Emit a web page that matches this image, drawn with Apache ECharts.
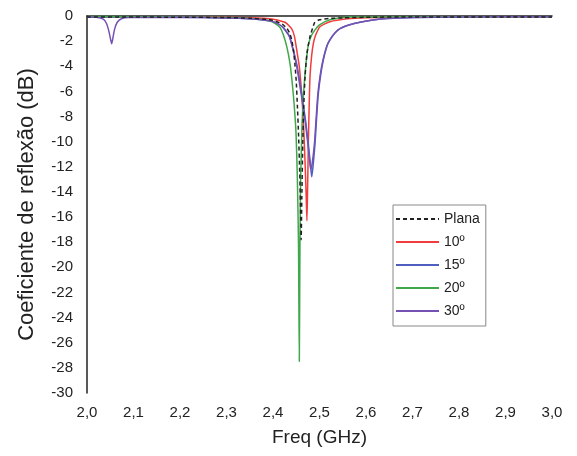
<!DOCTYPE html>
<html>
<head>
<meta charset="utf-8">
<script src="https://cdn.jsdelivr.net/npm/echarts@6/dist/echarts.min.js"></script>
<style>
  html, body { margin: 0; padding: 0; background: #fff; }
  #chart { width: 577px; height: 456px; }
</style>
</head>
<body>
<div id="chart"></div>
<script>
// legend names
var seriesNames = ['Plana', '10º', '15º', '20º', '30º'];

// [freq GHz, dB]
var plana = [[2.00,-0.08],[2.10,-0.08],[2.20,-0.1],[2.30,-0.12],[2.35,-0.18],[2.38,-0.25],[2.40,-0.35],
  [2.42,-0.65],[2.43,-1.0],[2.435,-1.3],[2.44,-1.85],[2.444,-2.7],[2.4475,-4.0],[2.450,-5.2],[2.4525,-7.2],
  [2.455,-9.5],[2.4575,-12.5],[2.4595,-16.0],[2.4605,-17.8],[2.462,-14.5],[2.464,-10.2],[2.466,-7.3],
  [2.469,-4.8],[2.473,-3.0],[2.4795,-1.65],[2.485,-1.0],[2.490,-0.5],[2.50,-0.3],[2.52,-0.2],[2.55,-0.15],
  [2.60,-0.1],[2.70,-0.08],[3.00,-0.07]];

var deg10 = [[2.00,-0.05],[2.10,-0.05],[2.20,-0.07],[2.30,-0.1],[2.35,-0.13],[2.38,-0.18],[2.40,-0.25],
  [2.4258,-0.5],[2.44,-1.0],[2.446,-1.6],[2.451,-2.7],[2.4565,-4.0],[2.4617,-6.2],[2.4655,-8.5],
  [2.4688,-11.5],[2.4715,-14.5],[2.473,-16.3],[2.4745,-13.5],[2.476,-10.2],[2.478,-6.8],[2.4796,-4.8],
  [2.483,-3.2],[2.4867,-2.2],[2.492,-1.5],[2.501,-0.85],[2.5226,-0.45],[2.56,-0.22],[2.60,-0.13],
  [2.70,-0.08],[3.00,-0.06]];

var deg15 = [[2.00,-0.08],[2.10,-0.08],[2.20,-0.1],[2.30,-0.15],[2.35,-0.22],[2.38,-0.32],[2.40,-0.45],
  [2.42,-0.85],[2.435,-1.6],[2.4437,-2.7],[2.452,-4.0],[2.4617,-6.2],[2.470,-8.3],[2.476,-10.2],
  [2.4805,-11.8],[2.4832,-12.8],[2.486,-12.0],[2.4903,-10.2],[2.494,-8.0],[2.4974,-6.2],[2.5025,-4.7],
  [2.5082,-3.5],[2.516,-2.4],[2.5226,-1.9],[2.533,-1.35],[2.544,-1.0],[2.565,-0.7],[2.587,-0.5],
  [2.615,-0.32],[2.645,-0.2],[2.70,-0.12],[2.80,-0.08],[3.00,-0.06]];

var deg20 = [[2.00,-0.03],[2.10,-0.05],[2.20,-0.08],[2.30,-0.12],[2.35,-0.2],[2.38,-0.3],[2.3935,-0.4],
  [2.405,-0.6],[2.415,-0.9],[2.4222,-1.5],[2.430,-2.5],[2.4366,-3.8],[2.441,-5.2],[2.4452,-6.9],
  [2.4495,-9.3],[2.4523,-12.8],[2.4548,-18.0],[2.4566,-27.5],[2.458,-18.0],[2.4596,-12.8],[2.4625,-8.6],
  [2.4655,-6.3],[2.4688,-4.6],[2.473,-3.1],[2.476,-2.3],[2.482,-1.6],[2.4903,-1.1],[2.50,-0.7],
  [2.5226,-0.3],[2.5656,-0.08],[2.70,-0.05],[3.00,-0.05]];

var deg30 = [[2.00,-0.08],[2.02,-0.1],[2.035,-0.25],[2.042,-0.6],[2.047,-1.2],[2.051,-1.9],[2.053,-2.2],
  [2.055,-1.9],[2.059,-1.1],[2.065,-0.5],[2.075,-0.2],[2.09,-0.12],[2.20,-0.1],[2.30,-0.15],[2.35,-0.22],
  [2.38,-0.32],[2.40,-0.45],[2.42,-0.85],[2.435,-1.6],[2.443,-2.7],[2.451,-4.0],[2.4605,-6.2],
  [2.469,-8.3],[2.475,-10.2],[2.479,-11.6],[2.481,-12.2],[2.484,-11.8],[2.489,-10.2],[2.493,-8.0],
  [2.4965,-6.2],[2.5015,-4.7],[2.5075,-3.5],[2.5155,-2.4],[2.5222,-1.9],[2.533,-1.35],[2.544,-1.0],
  [2.565,-0.7],[2.587,-0.5],[2.615,-0.32],[2.645,-0.2],[2.70,-0.12],[2.80,-0.08],[3.00,-0.06]];

var seriesData = [plana, deg10, deg15, deg20, deg30];
var colors = ['#222222', '#f03c3c', '#4f5fc0', '#3fa84a', '#7452b4'];

var font = '"Liberation Sans", Arial, sans-serif';
var chart = echarts.init(document.getElementById('chart'));

var series = seriesNames.map(function (name, i) {
    return {
        name: name,
        type: 'line',
        data: seriesData[i],
        symbol: 'none',
        smooth: 0.2,
        z: i === 0 ? 5 : 2,
        lineStyle: {
            color: colors[i],
            width: 1.5,
            type: i === 0 ? [4, 3] : 'solid'
        },
        itemStyle: { color: colors[i] }
    };
});

chart.setOption({
    animation: false,
    grid: { left: 87, right: 25, top: 16, bottom: 63 },
    legend: {
        data: seriesNames,
        orient: 'vertical',
        left: 393,
        top: 205,
        itemWidth: 43,
        itemHeight: 14,
        itemGap: 9,
        padding: [7, 6, 8, 2],
        borderColor: '#888',
        borderWidth: 1,
        backgroundColor: '#fff',
        // hide the marker dot, keep only the line
        itemStyle: { opacity: 0, color: 'transparent', borderWidth: 0 },
        textStyle: { fontFamily: font, fontSize: 14, color: '#222' }
    },
    xAxis: {
        type: 'value',
        min: 2,
        max: 3,
        interval: 0.1,
        name: 'Freq (GHz)',
        nameLocation: 'middle',
        nameGap: 35,
        nameTextStyle: { fontFamily: font, fontSize: 19, color: '#222' },
        axisLine: { lineStyle: { color: '#222', width: 1.5 } },
        axisTick: { show: false },
        splitLine: { show: false },
        axisLabel: {
            margin: 12,
            fontFamily: font,
            fontSize: 15,
            color: '#222',
            formatter: function (v) { return v.toFixed(1).replace('.', ','); }
        }
    },
    yAxis: {
        type: 'value',
        min: -30,
        max: 0,
        interval: 2,
        name: 'Coeficiente de reflexão (dB)',
        nameLocation: 'middle',
        nameGap: 49,
        nameTextStyle: { fontFamily: font, fontSize: 22, color: '#222' },
        axisLine: { show: true, lineStyle: { color: '#222', width: 1.5 } },
        axisTick: { show: false },
        splitLine: { show: false },
        axisLabel: { margin: 14, fontFamily: font, fontSize: 15, color: '#222' }
    },
    series: series
});
</script>
</body>
</html>
